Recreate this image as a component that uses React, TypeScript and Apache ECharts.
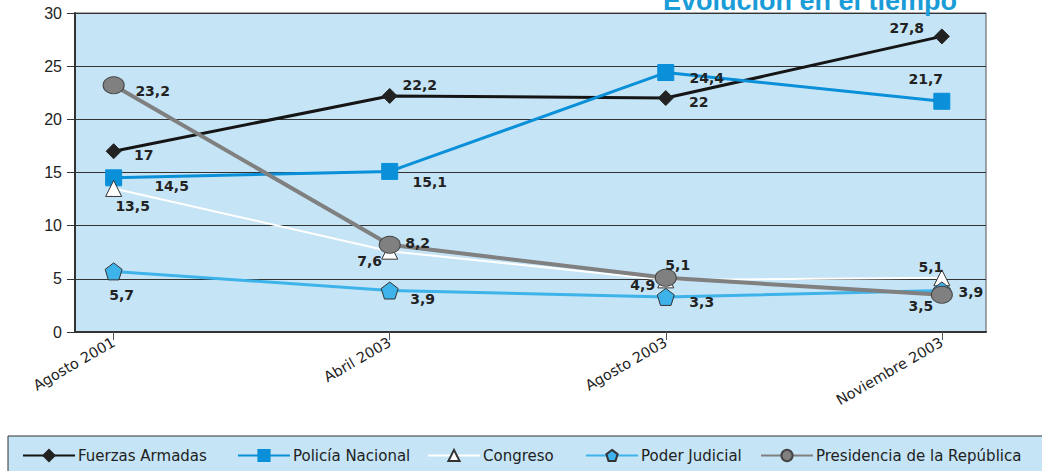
import React, { useEffect, useRef } from "react";
import * as echarts from "echarts";

const categories = ["Agosto 2001", "Abril 2003", "Agosto 2003", "Noviembre 2003"];
const yTicks = [0, 5, 10, 15, 20, 25, 30];

const fuerzasArmadas = [17, 22.2, 22, 27.8];
const policiaNacional = [14.5, 15.1, 24.4, 21.7];
const congreso = [13.5, 7.6, 4.9, 5.1];
const poderJudicial = [5.7, 3.9, 3.3, 3.9];
const presidencia = [23.2, 8.2, 5.1, 3.5];

const seriesNames = [
  "Fuerzas Armadas",
  "Policía Nacional",
  "Congreso",
  "Poder Judicial",
  "Presidencia de la República",
];

// label offsets (pixels) relative to each point
const labelOffsets: number[][][] = [
  [[30, 4], [30, -11], [33, 4], [-35, -8]],
  [[58, 8], [40, 11], [41, 5], [-16, -22]],
  [[19, 18], [-20, 10], [-23, 5], [-11, -11]],
  [[8, 24], [33, 8], [36, 5], [29, 1]],
  [[39, 6], [28, -2], [12, -13], [-21, 11]],
];

const PENTAGON =
  "path://M0,-1 L0.951,-0.309 L0.588,0.809 L-0.588,0.809 L-0.951,-0.309 Z";

const fmt = (v: number) => String(v).replace(".", ",");

export default function App() {
  const ref = useRef<HTMLDivElement>(null);
  useEffect(() => {
    if (!ref.current) return;
    const chart = echarts.init(ref.current, null, { renderer: "svg" });
    const allValues = [fuerzasArmadas, policiaNacional, congreso, poderJudicial, presidencia];
    const styles = [
      { line: "#151515", width: 3, symbol: "diamond", size: 15, fill: "#222", border: "#222" },
      { line: "#0a8fd9", width: 3, symbol: "rect", size: 16, fill: "#0a8fd9", border: "#0a8fd9" },
      { line: "#ffffff", width: 2, symbol: "triangle", size: 16, fill: "#ffffff", border: "#333" },
      { line: "#3db3ea", width: 3, symbol: PENTAGON, size: 17, fill: "#3db3ea", border: "#333" },
      { line: "#808080", width: 4, symbol: "circle", size: [21, 17], fill: "#808080", border: "#444" },
    ];
    const series = allValues.map((vals, si) => {
      const s = styles[si];
      return {
        name: seriesNames[si],
        type: "line",
        symbol: s.symbol,
        symbolSize: s.size,
        lineStyle: { color: s.line, width: s.width },
        itemStyle: { color: s.fill, borderColor: s.border, borderWidth: 1 },
        z: 2 + si,
        data: vals.map((v, i) => ({
          value: [i, v],
          label: {
            show: true,
            position: "inside",
            offset: labelOffsets[si][i],
            formatter: () => fmt(v),
            color: "#222",
            fontSize: 14,
            fontWeight: "bold",
            fontFamily: "DejaVu Sans",
          },
        })),
        emphasis: { disabled: true },
      };
    });
    const legendLefts = [22, 237, 427, 585, 760];
    chart.setOption({
      animation: false,
      grid: {
        left: 75,
        right: 56,
        top: 13,
        bottom: 139,
        show: true,
        backgroundColor: "#c5e5f7",
        borderColor: "#555",
        borderWidth: 1,
      },
      xAxis: {
        type: "value",
        min: -0.14,
        max: 3.16,
        axisLine: { show: true, onZero: false, lineStyle: { color: "#333", width: 2 } },
        axisTick: { show: true, customValues: [0, 1, 2, 3], length: 8, lineStyle: { color: "#555" } },
        axisLabel: {
          customValues: [0, 1, 2, 3],
          formatter: (v: number) => categories[Math.round(v)] ?? "",
          rotate: 30,
          fontSize: 14.5,
          fontFamily: "DejaVu Sans",
          color: "#222",
          margin: 9,
        },
        splitLine: { show: false },
      },
      yAxis: {
        type: "value",
        min: yTicks[0],
        max: yTicks[yTicks.length - 1],
        interval: 5,
        axisLine: { show: true, onZero: false, lineStyle: { color: "#333", width: 2 } },
        axisTick: { show: true, length: 8, lineStyle: { color: "#333" } },
        axisLabel: { fontSize: 16, fontFamily: "Liberation Sans", color: "#222", margin: 13 },
        splitLine: { show: true, lineStyle: { color: "#333", width: 1 } },
      },
      legend: seriesNames.map((n, i) => ({
        data: [n],
        left: legendLefts[i],
        top: 448,
        itemWidth: 52,
        itemHeight: 14,
        itemGap: 0,
        textStyle: { fontSize: 15, fontFamily: "DejaVu Sans", color: "#222", padding: [0, 0, 0, -2] },
        padding: 0,
        selectedMode: false,
      })),
      graphic: [
        {
          type: "rect",
          z: 0,
          shape: { x: 8, y: 436, width: 1040, height: 40 },
          style: { fill: "#c5e5f7", stroke: "#333", lineWidth: 1 },
        },
        {
          type: "text",
          x: 957,
          y: 14,
          z: 10,
          style: {
            text: "Evolución en el tiempo",
            align: "right",
            verticalAlign: "bottom",
            fontSize: 27,
            fontWeight: "bold",
            fontFamily: "Liberation Sans",
            fill: "#1a9cd8",
          },
        },
      ],
      series,
    });
    return () => chart.dispose();
  }, []);
  return <div ref={ref} style={{ width: 1042, height: 471, position: "absolute", left: 0, top: 0 }} />;
}
